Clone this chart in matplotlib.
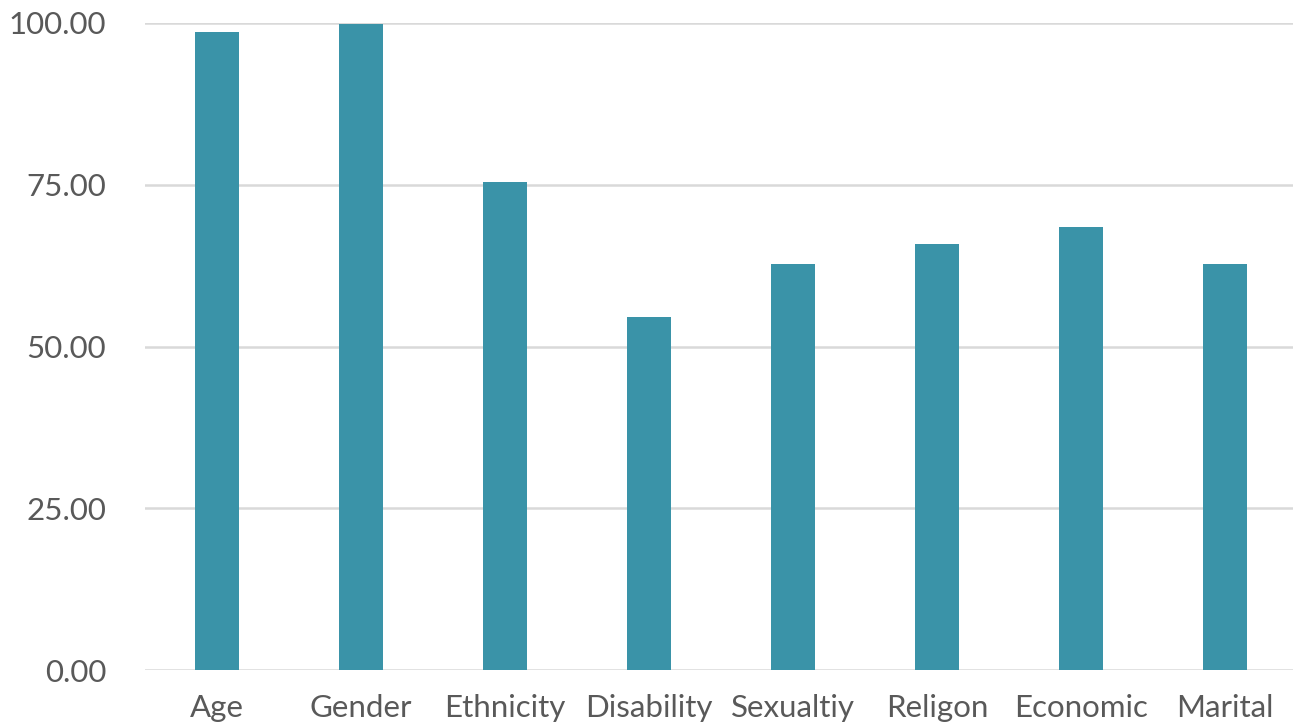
import matplotlib
matplotlib.use('Agg')
import matplotlib.pyplot as plt

# 数据
categories = ['Age', 'Gender', 'Ethnicity', 'Disability', 'Sexualtiy', 'Religon', 'Economic', 'Marital']
values = [98.6, 99.8, 75.4, 54.5, 62.7, 65.9, 68.4, 62.7]
yticks = [0, 25, 50, 75, 100]

plt.rcParams['font.family'] = ['Lato', 'DejaVu Sans']

fig = plt.figure(figsize=(12.93, 7.27), dpi=100)
ax = fig.add_axes([145 / 1293, 57 / 727, 1152 / 1293, (670 - 23) / 727])

ax.bar(range(len(categories)), values, width=0.31, color='#3A93A8', zorder=3)

ax.set_xlim(-0.5, 7.5)
ax.set_ylim(0, 100)
ax.set_yticks(yticks)
ax.set_yticklabels([f'{v:.2f}' for v in yticks])
ax.set_xticks(range(len(categories)))
ax.set_xticklabels(categories)

ax.grid(axis='y', color='#D9D9D9', linewidth=1.8, zorder=0)
ax.set_axisbelow(True)
for s in ax.spines.values():
    s.set_visible(False)
ax.tick_params(axis='both', length=0, labelsize=22.5, labelcolor='#595959')
ax.tick_params(axis='y', pad=28)
ax.tick_params(axis='x', pad=17)

fig.savefig('out.png', dpi=100)
